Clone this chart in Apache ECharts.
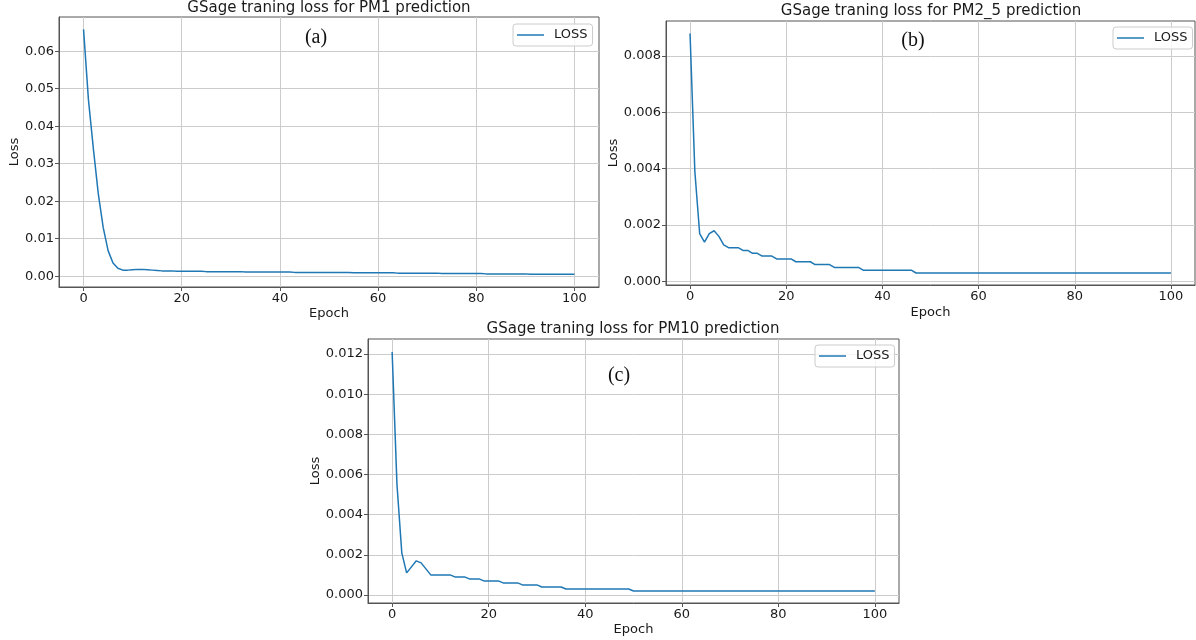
<!DOCTYPE html>
<html>
<head>
<meta charset="utf-8">
<script src="https://cdn.jsdelivr.net/npm/echarts@6/dist/echarts.min.js"></script>
<style>
html,body{margin:0;padding:0;background:#fff;}
#chart{width:1196px;height:640px;}
</style>
</head>
<body>
<div id="chart"></div>
<script>
// ---- data ----
const epochs = Array.from({length: 101}, (_, i) => i);
const xTicks = [0, 20, 40, 60, 80, 100];
const yTicksPM1 = [0, 0.01, 0.02, 0.03, 0.04, 0.05, 0.06];
const yTicksPM25 = [0, 0.002, 0.004, 0.006, 0.008];
const yTicksPM10 = [0, 0.002, 0.004, 0.006, 0.008, 0.010, 0.012];
const titles = ['GSage traning loss for PM1 prediction', 'GSage traning loss for PM2_5 prediction', 'GSage traning loss for PM10 prediction'];
const panelTags = ['(a)', '(b)', '(c)'];
const seriesName = 'LOSS';

const lossPM1 = [
  0.0658, 0.047, 0.034, 0.022, 0.013, 0.0068, 0.0035, 0.0021, 0.0016, 0.0016,
  0.0017, 0.0018, 0.0018, 0.0017, 0.0016, 0.0015, 0.0014, 0.0014, 0.0014, 0.0013,
  0.0013, 0.0013, 0.0013, 0.0013, 0.0013, 0.0012, 0.0012, 0.0012, 0.0012, 0.0012,
  0.0012, 0.0012, 0.0012, 0.0011, 0.0011, 0.0011, 0.0011, 0.0011, 0.0011, 0.0011,
  0.0011, 0.0011, 0.0011, 0.0010, 0.0010, 0.0010, 0.0010, 0.0010, 0.0010, 0.0010,
  0.0010, 0.0010, 0.0010, 0.0010, 0.00095, 0.0009, 0.0009, 0.0009, 0.0009, 0.0009,
  0.0009, 0.0009, 0.0009, 0.0009, 0.0008, 0.0008, 0.0008, 0.0008, 0.0008, 0.0008,
  0.0008, 0.0008, 0.0008, 0.0007, 0.0007, 0.0007, 0.0007, 0.0007, 0.0007, 0.0007,
  0.0007, 0.0007, 0.0006, 0.0006, 0.0006, 0.0006, 0.0006, 0.0006, 0.0006, 0.0006,
  0.0006, 0.0005, 0.0005, 0.0005, 0.0005, 0.0005, 0.0005, 0.0005, 0.0005, 0.0005,
  0.0005
];
const lossPM25 = [
  0.0088, 0.0039, 0.0017, 0.0014, 0.0017, 0.0018, 0.0016, 0.0013, 0.0012, 0.0012,
  0.0012, 0.0011, 0.0011, 0.0010, 0.0010, 0.0009, 0.0009, 0.0009, 0.0008, 0.0008,
  0.0008, 0.0008, 0.0007, 0.0007, 0.0007, 0.0007, 0.0006, 0.0006, 0.0006, 0.0006,
  0.0005, 0.0005, 0.0005, 0.0005, 0.0005, 0.0005, 0.0004, 0.0004, 0.0004, 0.0004,
  0.0004, 0.0004, 0.0004, 0.0004, 0.0004, 0.0004, 0.0004, 0.0003, 0.0003, 0.0003,
  0.0003, 0.0003, 0.0003, 0.0003, 0.0003, 0.0003, 0.0003, 0.0003, 0.0003, 0.0003,
  0.0003, 0.0003, 0.0003, 0.0003, 0.0003, 0.0003, 0.0003, 0.0003, 0.0003, 0.0003,
  0.0003, 0.0003, 0.0003, 0.0003, 0.0003, 0.0003, 0.0003, 0.0003, 0.0003, 0.0003,
  0.0003, 0.0003, 0.0003, 0.0003, 0.0003, 0.0003, 0.0003, 0.0003, 0.0003, 0.0003,
  0.0003, 0.0003, 0.0003, 0.0003, 0.0003, 0.0003, 0.0003, 0.0003, 0.0003, 0.0003,
  0.0003
];
const lossPM10 = [
  0.0121, 0.0055, 0.0021, 0.0011, 0.0014, 0.0017, 0.0016, 0.0013, 0.0010, 0.0010,
  0.0010, 0.0010, 0.0010, 0.0009, 0.0009, 0.0009, 0.0008, 0.0008, 0.0008, 0.0007,
  0.0007, 0.0007, 0.0007, 0.0006, 0.0006, 0.0006, 0.0006, 0.0005, 0.0005, 0.0005,
  0.0005, 0.0004, 0.0004, 0.0004, 0.0004, 0.0004, 0.0003, 0.0003, 0.0003, 0.0003,
  0.0003, 0.0003, 0.0003, 0.0003, 0.0003, 0.0003, 0.0003, 0.0003, 0.0003, 0.0003,
  0.0002, 0.0002, 0.0002, 0.0002, 0.0002, 0.0002, 0.0002, 0.0002, 0.0002, 0.0002,
  0.0002, 0.0002, 0.0002, 0.0002, 0.0002, 0.0002, 0.0002, 0.0002, 0.0002, 0.0002,
  0.0002, 0.0002, 0.0002, 0.0002, 0.0002, 0.0002, 0.0002, 0.0002, 0.0002, 0.0002,
  0.0002, 0.0002, 0.0002, 0.0002, 0.0002, 0.0002, 0.0002, 0.0002, 0.0002, 0.0002,
  0.0002, 0.0002, 0.0002, 0.0002, 0.0002, 0.0002, 0.0002, 0.0002, 0.0002, 0.0002,
  0.0002
];

// ---- layout / style ----
const FONT = 'DejaVu Sans';
const TXT = '#1a1a1a';
const FRAME = '#555555';
const GRIDC = '#cccccc';
const LINEC = '#1f77b4';

const panels = [
  {grid: {left: 59, top: 17, width: 540, height: 270}, ymin: -0.0029, ymax: 0.0691, yTicks: yTicksPM1, dec: 2, data: lossPM1,
   title: [329, 8], tag: [316, 38], legend: {left: 513, top: 24}, yGap: 37, xGap: 20},
  {grid: {left: 666, top: 21, width: 529, height: 264}, ymin: -0.000125, ymax: 0.00924, yTicks: yTicksPM25, dec: 3, data: lossPM25,
   title: [931, 11], tag: [913, 41], legend: {left: 1113, top: 27}, yGap: 43, xGap: 21},
  {grid: {left: 368, top: 339, width: 531, height: 264}, ymin: -0.0004, ymax: 0.01275, yTicks: yTicksPM10, dec: 3, data: lossPM10,
   title: [633, 329], tag: [619, 376], legend: {left: 815, top: 345}, yGap: 42, xGap: 20}
];

const option = {
  animation: false,
  backgroundColor: '#ffffff',
  grid: [], xAxis: [], yAxis: [], series: [], legend: [], graphic: []
};

panels.forEach((p, i) => {
  option.grid.push(Object.assign({show: true, borderColor: FRAME, borderWidth: 1, backgroundColor: 'transparent'}, p.grid));
  option.xAxis.push({
    type: 'value', gridIndex: i, min: -5, max: 105,
    name: 'Epoch', nameLocation: 'middle', nameGap: p.xGap,
    nameTextStyle: {fontFamily: FONT, fontSize: 13, color: TXT},
    axisLine: {show: true, onZero: false, lineStyle: {color: FRAME, width: 1}},
    axisTick: {show: true, length: 4, customValues: xTicks, lineStyle: {color: FRAME}},
    axisLabel: {customValues: xTicks, fontFamily: FONT, fontSize: 13, color: TXT, margin: 5},
    splitLine: {show: true, lineStyle: {color: GRIDC, width: 1}}
  });
  option.yAxis.push({
    type: 'value', gridIndex: i, min: p.ymin, max: p.ymax,
    name: 'Loss', nameLocation: 'middle', nameGap: p.yGap, nameRotate: 90,
    nameTextStyle: {fontFamily: FONT, fontSize: 13, color: TXT},
    axisLine: {show: true, onZero: false, lineStyle: {color: FRAME, width: 1}},
    axisTick: {show: true, length: 4, customValues: p.yTicks, lineStyle: {color: FRAME}},
    axisLabel: {customValues: p.yTicks, fontFamily: FONT, fontSize: 13, color: TXT, margin: 5,
      formatter: (v) => v.toFixed(p.dec)},
    splitLine: {show: true, lineStyle: {color: GRIDC, width: 1}}
  });
  option.series.push({
    name: seriesName, type: 'line', xAxisIndex: i, yAxisIndex: i,
    data: epochs.map((e, k) => [e, p.data[k]]),
    showSymbol: false, symbol: 'none', smooth: false,
    lineStyle: {color: LINEC, width: 1.5}, itemStyle: {color: LINEC}
  });
  option.legend.push({
    left: p.legend.left, top: p.legend.top, data: [seriesName],
    orient: 'vertical', selectedMode: false, icon: 'rect',
    backgroundColor: 'rgba(255,255,255,0.8)', borderColor: '#cccccc', borderWidth: 1, borderRadius: 3,
    padding: [4, 5, 4, 4], itemWidth: 27, itemHeight: 1.5,
    itemStyle: {color: LINEC, borderWidth: 0},
    textStyle: {fontFamily: FONT, fontSize: 13, color: TXT, padding: [0, 0, 0, 5], lineHeight: 14}
  });
  option.graphic.push({
    type: 'text', x: p.title[0], y: p.title[1],
    style: {text: titles[i], font: '15px "DejaVu Sans"', fill: TXT, align: 'center', verticalAlign: 'middle'}
  });
  option.graphic.push({
    type: 'text', x: p.tag[0], y: p.tag[1],
    style: {text: panelTags[i], font: '20px "Liberation Serif"', fill: '#111', align: 'center', verticalAlign: 'middle'}
  });
});

const chart = echarts.init(document.getElementById('chart'), null, {renderer: 'canvas'});
chart.setOption(option);
</script>
</body>
</html>
